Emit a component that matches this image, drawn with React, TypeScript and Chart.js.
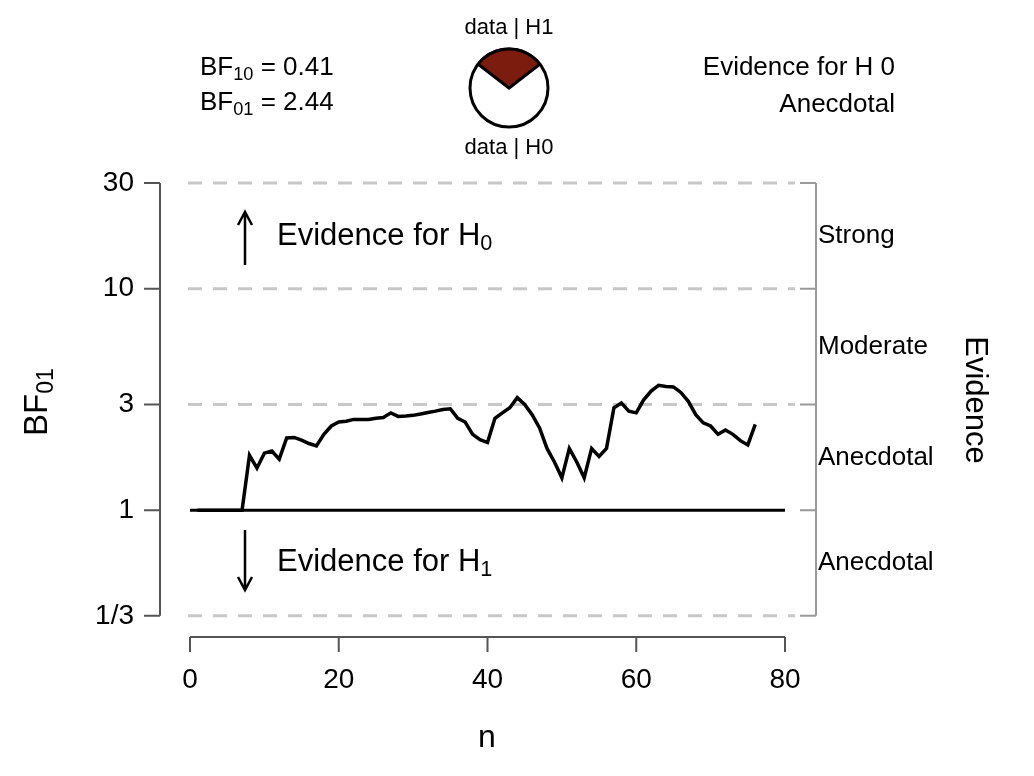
import React, { useEffect, useRef } from "react";
import { Chart, registerables } from "chart.js";

Chart.register(...registerables);

const nValues = Array.from({ length: 76 }, (_, i) => i + 1);
const bf01 = [
  1, 1, 1, 1, 1, 1, 1, 1.77, 1.55, 1.81, 1.85, 1.7, 2.12, 2.13, 2.07, 2.0, 1.95,
  2.2, 2.4, 2.5, 2.52, 2.57, 2.57, 2.57, 2.6, 2.62, 2.75, 2.65, 2.66, 2.68, 2.72,
  2.76, 2.8, 2.85, 2.87, 2.6, 2.5, 2.2, 2.08, 2.02, 2.6, 2.75, 2.9, 3.22, 3.0, 2.7,
  2.35, 1.9, 1.65, 1.4, 1.9, 1.65, 1.4, 1.9, 1.75, 1.9, 2.9, 3.05, 2.8, 2.75, 3.15,
  3.45, 3.66, 3.62, 3.6, 3.4, 3.1, 2.7, 2.48, 2.4, 2.2, 2.3, 2.2, 2.06, 1.97, 2.44,
];
const yTicks = [1 / 3, 1, 3, 10, 30];
const yTickLabels = ["1/3", "1", "3", "10", "30"];
const xTicks = [0, 20, 40, 60, 80];
const dashedLevels = [1 / 3, 3, 10, 30];
const evidenceLabels = [
  { text: "Strong", y: 17.3 },
  { text: "Moderate", y: 5.48 },
  { text: "Anecdotal", y: 1.73 },
  { text: "Anecdotal", y: 0.577 },
];
const bf10 = 0.41;

const FONT = "'Liberation Sans', Arial, sans-serif";

function subText(ctx: CanvasRenderingContext2D, parts: [string, boolean][], x: number, y: number, size: number, align: "left" | "right") {
  const widths = parts.map(([t, sub]) => {
    ctx.font = `${sub ? size * 0.7 : size}px ${FONT}`;
    return ctx.measureText(t).width;
  });
  const total = widths.reduce((a, b) => a + b, 0);
  let cx = align === "left" ? x : x - total;
  ctx.textAlign = "left";
  ctx.textBaseline = "middle";
  parts.forEach(([t, sub], i) => {
    ctx.font = `${sub ? size * 0.7 : size}px ${FONT}`;
    ctx.fillText(t, cx, sub ? y + size * 0.25 : y);
    cx += widths[i];
  });
}

const decorations = {
  id: "decorations",
  beforeDatasetsDraw(chart: any) {
    const ctx: CanvasRenderingContext2D = chart.ctx;
    const xs = chart.scales.x;
    const ys = chart.scales.y;
    ctx.save();
    ctx.strokeStyle = "#c8c8c8";
    ctx.lineWidth = 3;
    ctx.setLineDash([14, 11]);
    dashedLevels.forEach((v) => {
      const y = ys.getPixelForValue(v);
      ctx.beginPath();
      ctx.moveTo(188, y);
      ctx.lineTo(795, y);
      ctx.stroke();
    });
    ctx.setLineDash([]);
    ctx.strokeStyle = "#000";
    ctx.lineWidth = 3;
    const y1 = ys.getPixelForValue(1);
    ctx.beginPath();
    ctx.moveTo(xs.getPixelForValue(0), y1);
    ctx.lineTo(xs.getPixelForValue(80), y1);
    ctx.stroke();
    ctx.restore();
  },
  afterDraw(chart: any) {
    const ctx: CanvasRenderingContext2D = chart.ctx;
    const xs = chart.scales.x;
    const ys = chart.scales.y;
    const top = ys.getPixelForValue(30);
    const bot = ys.getPixelForValue(1 / 3);
    ctx.save();
    ctx.fillStyle = "#000";
    // left axis
    ctx.strokeStyle = "#555";
    ctx.lineWidth = 2;
    ctx.beginPath();
    ctx.moveTo(160, top);
    ctx.lineTo(160, bot);
    yTicks.forEach((v) => {
      const y = ys.getPixelForValue(v);
      ctx.moveTo(144, y);
      ctx.lineTo(160, y);
    });
    ctx.stroke();
    ctx.font = `28px ${FONT}`;
    ctx.textAlign = "right";
    ctx.textBaseline = "middle";
    yTicks.forEach((v, i) => ctx.fillText(yTickLabels[i], 134, ys.getPixelForValue(v)));
    // right axis
    ctx.strokeStyle = "#999";
    ctx.beginPath();
    ctx.moveTo(816, top);
    ctx.lineTo(816, bot);
    yTicks.forEach((v) => {
      const y = ys.getPixelForValue(v);
      ctx.moveTo(800, y);
      ctx.lineTo(816, y);
    });
    ctx.stroke();
    ctx.font = `26px ${FONT}`;
    ctx.textAlign = "left";
    evidenceLabels.forEach((l) => ctx.fillText(l.text, 818, ys.getPixelForValue(l.y)));
    // bottom axis
    ctx.strokeStyle = "#555";
    ctx.beginPath();
    ctx.moveTo(xs.getPixelForValue(0), 637);
    ctx.lineTo(xs.getPixelForValue(80), 637);
    xTicks.forEach((v) => {
      const x = xs.getPixelForValue(v);
      ctx.moveTo(x, 637);
      ctx.lineTo(x, 652);
    });
    ctx.stroke();
    ctx.font = `28px ${FONT}`;
    ctx.textAlign = "center";
    xTicks.forEach((v) => ctx.fillText(String(v), xs.getPixelForValue(v), 680));
    ctx.font = `32px ${FONT}`;
    ctx.fillText("n", 487, 738);
    // axis titles
    ctx.save();
    ctx.translate(38, 400);
    ctx.rotate(-Math.PI / 2);
    subText(ctx, [["BF", false], ["01", true]], -36, 0, 33, "left");
    ctx.restore();
    ctx.save();
    ctx.translate(975, 400);
    ctx.rotate(Math.PI / 2);
    ctx.font = `31px ${FONT}`;
    ctx.textAlign = "center";
    ctx.fillText("Evidence", 0, 0);
    ctx.restore();
    // arrows
    ctx.strokeStyle = "#000";
    ctx.lineWidth = 2.5;
    const arrow = (x: number, y0: number, y1: number) => {
      const d = y1 < y0 ? 1 : -1;
      ctx.beginPath();
      ctx.moveTo(x, y0);
      ctx.lineTo(x, y1);
      ctx.moveTo(x - 7, y1 + d * 13);
      ctx.lineTo(x, y1);
      ctx.lineTo(x + 7, y1 + d * 13);
      ctx.stroke();
    };
    arrow(245, 265, 212);
    arrow(245, 530, 590);
    subText(ctx, [["Evidence for H", false], ["0", true]], 277, 236, 31, "left");
    subText(ctx, [["Evidence for H", false], ["1", true]], 277, 562, 31, "left");
    // top texts
    subText(ctx, [["BF", false], ["10", true], [` = ${bf10.toFixed(2)}`, false]], 200, 68, 26, "left");
    subText(ctx, [["BF", false], ["01", true], [` = ${(1 / bf10).toFixed(2)}`, false]], 200, 103, 26, "left");
    subText(ctx, [["Evidence for H", false], [" 0", false]], 895, 68, 26, "right");
    ctx.font = `26px ${FONT}`;
    ctx.textAlign = "right";
    ctx.fillText("Anecdotal", 895, 105);
    // pie
    const cx = 509, cy = 88, r = 39;
    const frac = bf10 / (1 + bf10);
    const a0 = -Math.PI / 2 - frac * Math.PI;
    const a1 = -Math.PI / 2 + frac * Math.PI;
    ctx.lineWidth = 3;
    ctx.beginPath();
    ctx.arc(cx, cy, r, 0, Math.PI * 2);
    ctx.fillStyle = "#fff";
    ctx.fill();
    ctx.stroke();
    ctx.beginPath();
    ctx.moveTo(cx, cy);
    ctx.arc(cx, cy, r, a0, a1);
    ctx.closePath();
    ctx.fillStyle = "#7b1c0e";
    ctx.fill();
    ctx.stroke();
    ctx.fillStyle = "#000";
    ctx.font = `22px ${FONT}`;
    ctx.textAlign = "center";
    ctx.fillText("data | H1", cx, 28);
    ctx.fillText("data | H0", cx, 148);
    ctx.restore();
  },
};

const App: React.FC = () => {
  const canvasRef = useRef<HTMLCanvasElement | null>(null);
  const chartRef = useRef<Chart | null>(null);

  useEffect(() => {
    document.body.style.margin = "0";
    const ctx = canvasRef.current?.getContext("2d");
    if (!ctx) return;
    chartRef.current = new Chart(ctx, {
      type: "line",
      data: {
        datasets: [
          {
            data: nValues.map((n, i) => ({ x: n, y: bf01[i] })),
            borderColor: "#000",
            borderWidth: 3.5,
            pointRadius: 0,
            tension: 0,
            clip: false as any,
          },
        ],
      },
      options: {
        responsive: false,
        animation: false,
        devicePixelRatio: 1,
        layout: { padding: { left: 190, right: 249, top: 183, bottom: 150 } },
        plugins: { legend: { display: false }, tooltip: { enabled: false } },
        scales: {
          x: { type: "linear", min: 0, max: 80, display: false },
          y: { type: "logarithmic", min: 1 / 3, max: 30, display: false },
        },
      },
      plugins: [decorations],
    });
    return () => {
      chartRef.current?.destroy();
    };
  }, []);

  return <canvas ref={canvasRef} width={1034} height={776} />;
};

export default App;
